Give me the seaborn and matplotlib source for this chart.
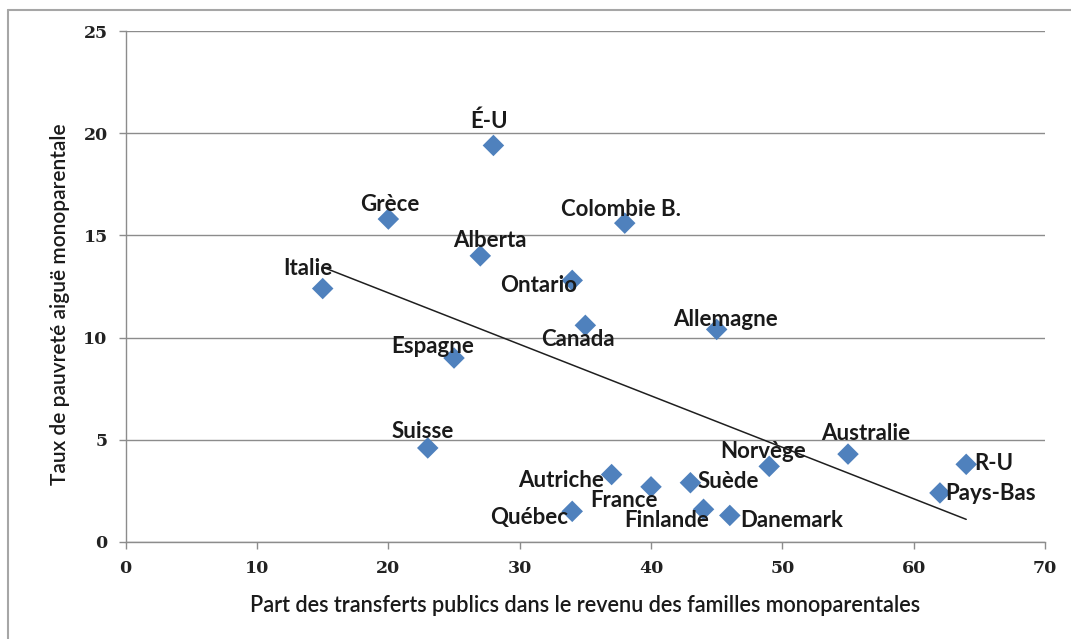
import matplotlib
matplotlib.use("Agg")
import matplotlib.pyplot as plt
import seaborn as sns
import pandas as pd
from matplotlib.lines import Line2D

# Regions, share of public transfers in lone-parent income (%), and
# acute lone-parent poverty rate (%)
regions = ["Italie", "Grèce", "Suisse", "Espagne", "Alberta", "É-U",
           "Ontario", "Québec", "Canada", "Autriche", "Colombie B.",
           "France", "Suède", "Finlande", "Allemagne", "Danemark",
           "Norvège", "Australie", "Pays-Bas", "R-U"]
transfer_share = [15, 20, 23, 25, 27, 28, 34, 34, 35, 37, 38,
                  40, 43, 44, 45, 46, 49, 55, 62, 64]
poverty_rate = [12.4, 15.8, 4.6, 9.0, 14.0, 19.4, 12.8, 1.5, 10.6, 3.3, 15.6,
                2.7, 2.9, 1.6, 10.4, 1.3, 3.7, 4.3, 2.4, 3.8]

x_ticks = [0, 10, 20, 30, 40, 50, 60, 70]
y_ticks = [0, 5, 10, 15, 20, 25]

x_title = "Part des transferts publics dans le revenu des familles monoparentales"
y_title = "Taux de pauvreté aiguë monoparentale"

# label placement around each marker: (dx px, dy px, alignment)
label_pos = {
    "É-U": (-4, 24, "center"), "Grèce": (1, 15, "center"),
    "Colombie B.": (-4, 14, "center"), "Alberta": (10, 15, "center"),
    "Italie": (-15, 20, "center"), "Ontario": (-34, -5, "center"),
    "Canada": (-7, -14, "center"), "Espagne": (-21, 12, "center"),
    "Allemagne": (9, 10, "center"), "Suisse": (-5, 16, "center"),
    "Autriche": (-8, -6, "right"), "France": (-27, -14, "center"),
    "Suède": (7, 1, "left"), "Norvège": (-6, 15, "center"),
    "Australie": (18, 21, "center"), "R-U": (8, 1, "left"),
    "Pays-Bas": (5, -1, "left"), "Québec": (-4, -6, "right"),
    "Finlande": (-37, -11, "center"), "Danemark": (10, -5, "left"),
}

df = pd.DataFrame({"region": regions, "share": transfer_share,
                   "rate": poverty_rate})

sns.set_theme(style="white")
plt.rcParams["font.family"] = ["Lato", "DejaVu Sans"]

GRID = "#8c8c8c"
BLUE = "#4F81BD"

fig = plt.figure(figsize=(10.71, 6.39), dpi=100)
fig.patch.set_facecolor("white")
ax = fig.add_axes([125.7 / 1071, 1 - 542 / 639, (1045 - 125.7) / 1071, (542 - 31) / 639])

# linear trend over the data range
sns.regplot(data=df, x="share", y="rate", scatter=False, ci=None,
            truncate=True, ax=ax,
            line_kws=dict(color="#1f1f1f", lw=1.1, zorder=2))
sns.scatterplot(data=df, x="share", y="rate", marker="D", s=120,
                color=BLUE, edgecolor="none", ax=ax, zorder=3, legend=False)

for name, x, y in zip(regions, transfer_share, poverty_rate):
    dx, dy, ha = label_pos[name]
    ax.annotate(name, (x, y), xytext=(dx, dy), textcoords="offset pixels",
                ha=ha, va="center", fontsize=16, fontweight="bold",
                color="#1a1a1a", zorder=4)

ax.set_xlim(0, 70)
ax.set_ylim(0, 25)
ax.set_xticks(x_ticks)
ax.set_yticks(y_ticks)
ax.set_xticklabels([str(t) for t in x_ticks], family="DejaVu Serif",
                   fontsize=12.5, fontweight="bold", color="#222222")
ax.set_yticklabels([str(t) for t in y_ticks], family="DejaVu Serif",
                   fontsize=12.5, fontweight="bold", color="#222222")
ax.set_xlabel("")
ax.set_ylabel("")

ax.yaxis.grid(True, color=GRID, lw=1.0)
ax.xaxis.grid(False)
ax.set_axisbelow(True)
for side in ("top", "right"):
    ax.spines[side].set_visible(False)
for side in ("left", "bottom"):
    ax.spines[side].set_color(GRID)
    ax.spines[side].set_linewidth(1.0)
ax.tick_params(axis="both", which="major", bottom=True, left=True,
               direction="out", length=5, width=1, color=GRID, pad=8)

fig.text(585 / 1071, 1 - 606 / 639, x_title, ha="center", va="center",
         fontsize=15.6, fontweight="semibold", color="#1a1a1a")
fig.text(60 / 1071, 1 - 304 / 639, y_title, ha="center", va="center",
         rotation=90, fontsize=15, fontweight="semibold", color="#1a1a1a")

# outer chart frame (top and left edges)
fig.add_artist(Line2D([8 / 1071, 8 / 1071], [0, 1 - 10 / 639],
                      transform=fig.transFigure, color="#a6a6a6", lw=1.5))
fig.add_artist(Line2D([8 / 1071, 1], [1 - 10 / 639, 1 - 10 / 639],
                      transform=fig.transFigure, color="#a6a6a6", lw=1.5))

fig.savefig("out.png", dpi=100, facecolor="white")
